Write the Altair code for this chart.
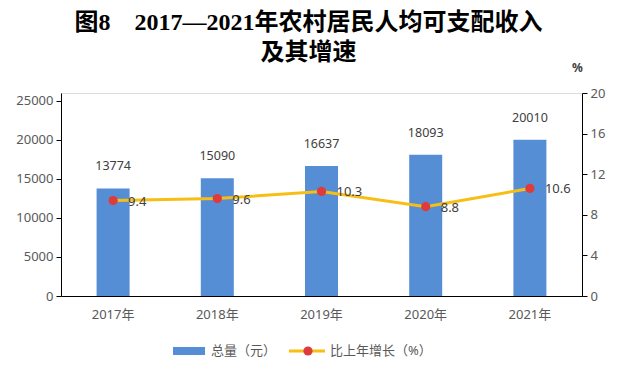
import altair as alt
import pandas as pd

years = ["2017年", "2018年", "2019年", "2020年", "2021年"]
totals = [13774, 15090, 16637, 18093, 20010]
growth = [9.4, 9.6, 10.3, 8.8, 10.6]
growth_labels = ["9.4", "9.6", "10.3", "8.8", "10.6"]
left_ticks = [0, 5000, 10000, 15000, 20000, 25000]
right_ticks = [0, 4, 8, 12, 16, 20]

df = pd.DataFrame({"year": years, "total": totals, "growth": growth, "glabel": growth_labels})

BLUE = "#558ED5"
GOLD = "#F7BE16"
RED = "#E03A3A"
LABEL = "#595959"
FONT = "Noto Sans, Noto Sans CJK SC"

x = alt.X("year:N", sort=years, title=None,
          scale=alt.Scale(paddingInner=0, paddingOuter=0),
          axis=alt.Axis(labelAngle=0, ticks=False, domainColor="black", domainWidth=1,
                        labelColor=LABEL, labelFontSize=13, labelPadding=12, labelFont=FONT))

base = alt.Chart(df)

bars = base.mark_bar(size=33, color=BLUE).encode(
    x=x,
    y=alt.Y("total:Q", title=None, scale=alt.Scale(domain=[0, 25000]),
            axis=alt.Axis(values=left_ticks, grid=False, domainColor="black", tickColor="black",
                          tickSize=5, labelPadding=3, labelColor=LABEL, labelFontSize=13,
                          labelFont=FONT, format="d")),
)
bar_text = base.mark_text(baseline="bottom", dy=-15, fontSize=12.5, color="#404040", font=FONT).encode(
    x=alt.X("year:N", sort=years), y=alt.Y("total:Q"), text="total:Q"
)
left = alt.layer(bars, bar_text)

y2 = alt.Y("growth:Q", title="%", scale=alt.Scale(domain=[0, 20]),
           axis=alt.Axis(orient="right", values=right_ticks, grid=False, domainColor="black",
                         tickColor="black", tickSize=5, labelPadding=3, labelColor=LABEL,
                         labelFontSize=13, labelFont=FONT, titleAngle=0, titleX=-5, titleY=-26,
                         titleFontSize=12, titleFont=FONT, titleFontWeight="bold",
                         titleColor="#404040", titleAlign="center", titleBaseline="middle"))
line = base.mark_line(color=GOLD, strokeWidth=3).encode(x=alt.X("year:N", sort=years), y=y2)
pts = base.mark_point(filled=True, color=RED, size=85, opacity=1).encode(
    x=alt.X("year:N", sort=years), y=alt.Y("growth:Q"))
line_text = base.mark_text(align="left", baseline="middle", dx=15, dy=1, fontSize=13,
                           color="#404040", font=FONT).encode(
    x=alt.X("year:N", sort=years), y=alt.Y("growth:Q"), text="glabel:N")
right = alt.layer(line, pts, line_text)

# legend
one = alt.Chart(pd.DataFrame({"a": [0]}))
leg_y = 258
leg_bar = one.mark_rect(color=BLUE).encode(x=alt.value(112), x2=alt.value(144),
                                           y=alt.value(leg_y - 4), y2=alt.value(leg_y + 4))
leg_bar_t = one.mark_text(align="left", baseline="middle", fontSize=13, color=LABEL, font=FONT,
                          text="总量（元）").encode(x=alt.value(150), y=alt.value(leg_y))
leg_line = one.mark_rule(color=GOLD, strokeWidth=3).encode(x=alt.value(228), x2=alt.value(264),
                                                           y=alt.value(leg_y))
leg_pt = one.mark_point(filled=True, color=RED, size=85, opacity=1).encode(
    x=alt.value(247), y=alt.value(leg_y))
leg_line_t = one.mark_text(align="left", baseline="middle", fontSize=13, color=LABEL, font=FONT,
                           text="比上年增长（%）").encode(x=alt.value(269), y=alt.value(leg_y))
legend = alt.layer(leg_bar, leg_bar_t, leg_line, leg_pt, leg_line_t)

chart = alt.layer(left, right, legend).resolve_scale(y="independent").properties(
    width=521, height=203,
    padding={"left": 53, "top": 85, "right": 30, "bottom": 71},
    autosize=alt.AutoSizeParams(type="none"),
    title=alt.TitleParams(
        text=["图8　2017—2021年农村居民人均可支配收入", "及其增速"],
        font="Liberation Serif, Noto Sans CJK SC", fontSize=24, fontWeight="bold",
        color="black", anchor="middle", dx=-13, dy=12, lineHeight=30, offset=8),
).configure_view(stroke=None).configure(background="white")

chart.save("out.html", embed_options={"renderer": "svg", "actions": False})
